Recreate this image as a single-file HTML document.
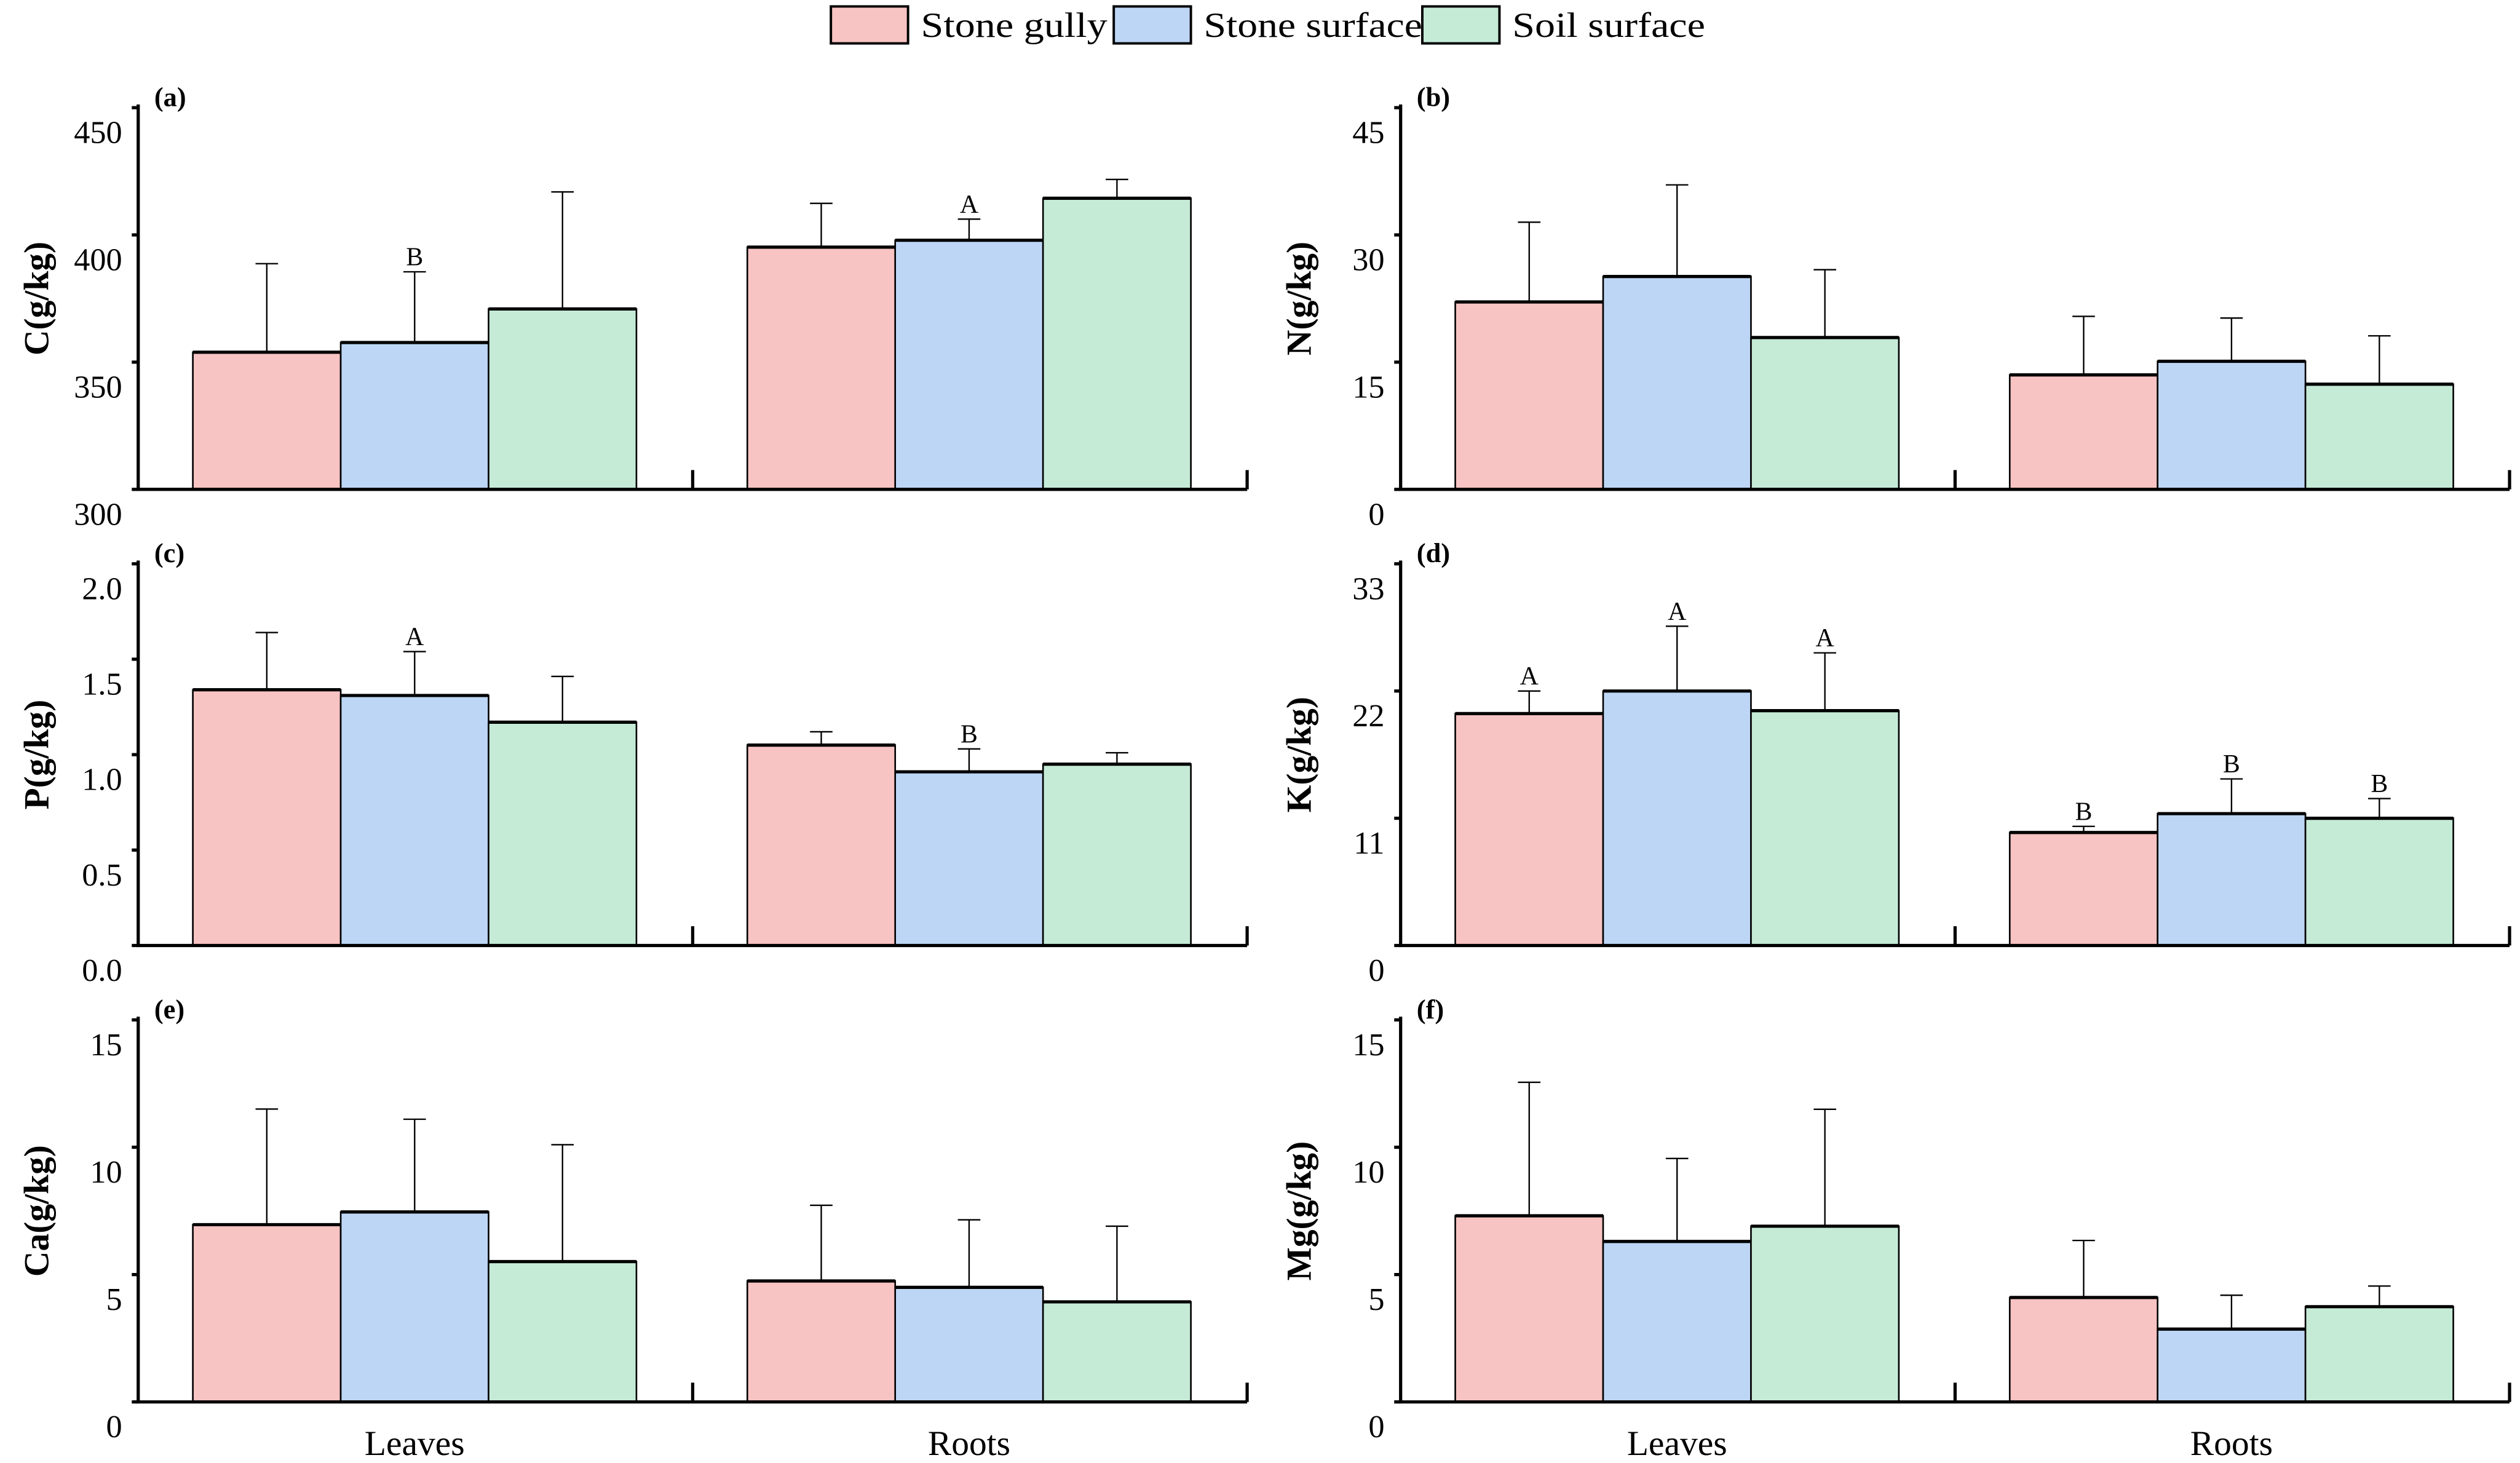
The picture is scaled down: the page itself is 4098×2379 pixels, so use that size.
<!DOCTYPE html>
<html><head><meta charset="utf-8"><style>
html,body{margin:0;padding:0;background:#fff;}
svg{display:block;}
text{font-family:"Liberation Serif",serif;fill:#000;}
</style></head><body>
<svg id="chart" width="4098" height="2379" viewBox="0 0 1568 910.3" preserveAspectRatio="none" xmlns="http://www.w3.org/2000/svg">
<g>
<rect x="517" y="4" width="48" height="23" fill="#f8c3c3" stroke="#000" stroke-width="1.5"/>
<text x="573" y="23" font-size="22" textLength="116" lengthAdjust="spacingAndGlyphs">Stone gully</text>
<rect x="693" y="4" width="48" height="23" fill="#bdd6f5" stroke="#000" stroke-width="1.5"/>
<text x="749" y="23" font-size="22" textLength="136" lengthAdjust="spacingAndGlyphs">Stone surface</text>
<rect x="885" y="4" width="48" height="23" fill="#c5ebd7" stroke="#000" stroke-width="1.5"/>
<text x="941" y="23" font-size="22" textLength="120" lengthAdjust="spacingAndGlyphs">Soil surface</text>
</g>
</svg>
<script>
const categories = ["Leaves", "Roots"];
const seriesNames = ["Stone gully", "Stone surface", "Soil surface"];
// panel a: C
const cMean = [[353.9, 357.7, 370.9], [395.2, 397.9, 414.4]];
const cErr = [[388.7, 385.5, 416.9], [412.4, 406.2, 421.8]];
const cTicks = [300, 350, 400, 450];
const cLetters = [["", "B", ""], ["", "A", ""]];
// panel b: N
const nMean = [[22.1, 25.1, 17.9], [13.5, 15.1, 12.4]];
const nErr = [[31.5, 35.9, 25.9], [20.4, 20.2, 18.1]];
const nTicks = [0, 15, 30, 45];
const nLetters = [["", "", ""], ["", "", ""]];
// panel c: P
const pMean = [[1.34, 1.31, 1.17], [1.05, 0.91, 0.95]];
const pErr = [[1.64, 1.54, 1.41], [1.12, 1.03, 1.01]];
const pTicks = [0.0, 0.5, 1.0, 1.5, 2.0];
const pTickLabels = ["0.0", "0.5", "1.0", "1.5", "2.0"];
const pLetters = [["", "A", ""], ["", "B", ""]];
// panel d: K
const kMean = [[20.05, 22.0, 20.3], [9.77, 11.4, 11.0]];
const kErr = [[22.0, 27.6, 25.3], [10.3, 14.4, 12.7]];
const kTicks = [0, 11, 22, 33];
const kLetters = [["A", "A", "A"], ["B", "B", "B"]];
// panel e: Ca
const caMean = [[6.96, 7.46, 5.51], [4.75, 4.5, 3.93]];
const caErr = [[11.5, 11.1, 10.1], [7.72, 7.15, 6.9]];
const caTicks = [0, 5, 10, 15];
const caLetters = [["", "", ""], ["", "", ""]];
// panel f: Mg
const mgMean = [[7.31, 6.30, 6.90], [4.10, 2.86, 3.74]];
const mgErr = [[12.55, 9.56, 11.49], [6.34, 4.19, 4.55]];
const mgTicks = [0, 5, 10, 15];
const mgLetters = [["", "", ""], ["", "", ""]];

const NS = "http://www.w3.org/2000/svg";
const svg = document.getElementById("chart");
const colors = ["#f8c3c3", "#bdd6f5", "#c5ebd7"];
function mk(tag, attrs, parent) {
  const e = document.createElementNS(NS, tag);
  for (const k in attrs) e.setAttribute(k, attrs[k]);
  (parent || svg).appendChild(e);
  return e;
}
function panel(id, x0, yTop, yBase, ticks, tickLabels, mean, err, letters, title, showX) {
  const g = mk("g", {});
  
  
  const x1 = x0 + 690;
  const vmin = ticks[0], vmax = ticks[ticks.length - 1];
  const yScale = v => yBase - (v - vmin) / (vmax - vmin) * (yBase - yTop);
  const groupStart = [x0 + 34, x0 + 379];
  const bw = 92;
  for (let c = 0; c < 2; c++) for (let s = 0; s < 3; s++) {
    const cx = groupStart[c] + bw * s + bw / 2;
    const ey = yScale(err[c][s]);
    const el = mk("path", {d: `M${cx},${yScale(mean[c][s])}V${ey}M${cx - 7},${ey}H${cx + 7}`, stroke: "#000", "stroke-width": 0.9, fill: "none"}, g);
    
    
    if (letters[c][s]) {
      const t = mk("text", {x: cx, y: ey - 4, "font-size": 16, "text-anchor": "middle"}, g);
      t.textContent = letters[c][s];
      
      
    }
  }
  for (let c = 0; c < 2; c++) for (let s = 0; s < 3; s++) {
    const bx = groupStart[c] + bw * s;
    const by = yScale(mean[c][s]);
    const r = mk("rect", {x: bx, y: by, width: bw, height: yBase - by, fill: colors[s], stroke: "#000", "stroke-width": 1}, g);
    
    
    const tl = mk("line", {x1: bx, x2: bx + bw, y1: by, y2: by, stroke: "#000", "stroke-width": 2}, g);
    
    
  }
  const ax = mk("path", {d: `M${x0},${yTop - 2}V${yBase}H${x1}M${x0 + 345},${yBase}V${yBase - 12}M${x1},${yBase}V${yBase - 12}`, stroke: "#000", "stroke-width": 2, fill: "none"}, g);
  
  
  ticks.forEach((v, i) => {
    const y = yScale(v);
    const tk = mk("line", {x1: x0 - 4, x2: x0, y1: y, y2: y, stroke: "#000", "stroke-width": 2}, g);
    
    
    const t = mk("text", {x: x0 - 10, y: y + 22, "font-size": 20, "text-anchor": "end"}, g);
    t.textContent = tickLabels ? tickLabels[i] : String(v);
    
    
  });
  const pl = mk("text", {x: x0 + 10, y: yTop - 1, "font-size": 17, "font-weight": "bold"}, g);
  pl.textContent = "(" + id + ")";
  
  
  const cy = (yTop + yBase) / 2;
  const yt = mk("text", {x: x0 - 56, y: cy, "font-size": 22, "font-weight": "bold", "text-anchor": "middle", transform: `rotate(-90 ${x0 - 56} ${cy})`}, g);
  yt.textContent = title;
  
  
  if (showX) {
    categories.forEach((c, i) => {
      const t = mk("text", {x: groupStart[i] + bw * 1.5, y: yBase + 33, "font-size": 22, "text-anchor": "middle"}, g);
      t.textContent = c;
      
      
    });
  }
}
const xL = 86, xR = 871.5;
panel("a", xL, 67, 304.5, cTicks, null, cMean, cErr, cLetters, "C(g/kg)", false);
panel("b", xR, 67, 304.5, nTicks, null, nMean, nErr, nLetters, "N(g/kg)", false);
panel("c", xL, 350.8, 588.3, pTicks, pTickLabels, pMean, pErr, pLetters, "P(g/kg)", false);
panel("d", xR, 350.8, 588.3, kTicks, null, kMean, kErr, kLetters, "K(g/kg)", false);
panel("e", xL, 634.6, 872.3, caTicks, null, caMean, caErr, caLetters, "Ca(g/kg)", true);
panel("f", xR, 634.6, 872.3, mgTicks, null, mgMean, mgErr, mgLetters, "Mg(g/kg)", true);
</script>
</body></html>
